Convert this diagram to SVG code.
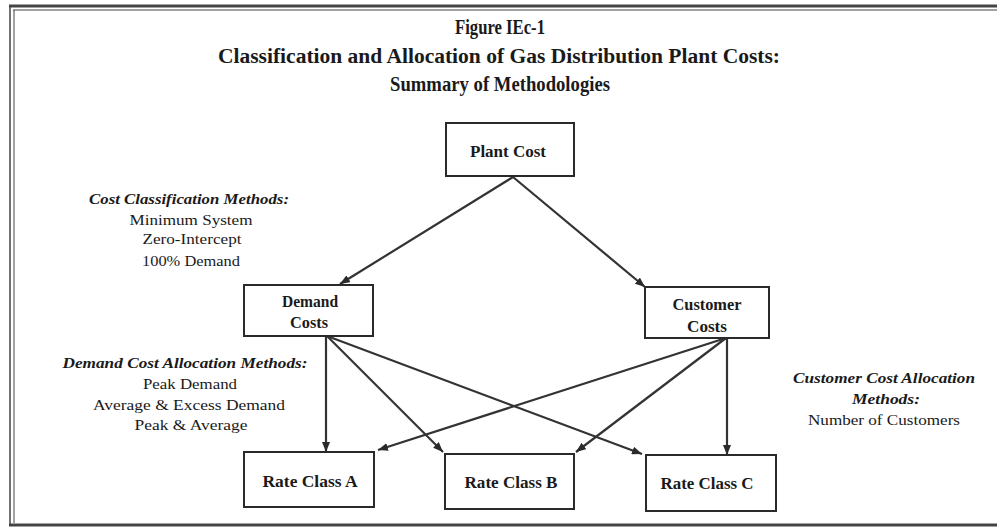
<svg xmlns="http://www.w3.org/2000/svg" width="997" height="529" viewBox="0 0 997 529">
<style>
text{font-family:"Liberation Serif","Times New Roman",serif;fill:#1a1a1a}
.t{font-weight:bold;font-size:20px;text-anchor:middle}
.h{font-weight:bold;font-style:italic;font-size:15.5px;text-anchor:middle}
.b{font-size:15px;text-anchor:middle}
.n{font-weight:bold;font-size:16px;text-anchor:middle}
.box{fill:#fff;stroke:#2a2a2a;stroke-width:2}
.c{stroke:#333;stroke-width:2.2;fill:none;marker-end:url(#ah)}
</style>
<defs>
<marker id="ah" viewBox="0 0 10 8" refX="10" refY="4" markerWidth="10" markerHeight="8" markerUnits="userSpaceOnUse" orient="auto">
<path d="M0,0 L10,4 L0,8 z" fill="#2a2a2a"/>
</marker>
</defs>
<rect width="997" height="529" fill="#fff"/>
<g id="frame" fill="none" stroke="#444">
<line x1="9" y1="6" x2="997" y2="6" stroke-width="3"/>
<line x1="13" y1="10" x2="997" y2="10" stroke-width="1"/>
<line x1="10" y1="6" x2="10" y2="526" stroke-width="1.5"/>
<line x1="14" y1="10" x2="14" y2="523" stroke-width="1"/>
<line x1="9" y1="525" x2="997" y2="525" stroke-width="3"/>
</g>
<g id="title">
<text class="t" x="500" y="34" textLength="90" lengthAdjust="spacingAndGlyphs">Figure IEc-1</text>
<text class="t" x="499" y="63" textLength="562" lengthAdjust="spacingAndGlyphs">Classification and Allocation of Gas Distribution Plant  Costs:</text>
<text class="t" x="500" y="91" textLength="220" lengthAdjust="spacingAndGlyphs">Summary  of Methodologies</text>
</g>
<g id="connectors">
<line class="c" x1="513" y1="177" x2="340" y2="284"/>
<line class="c" x1="513" y1="177" x2="645" y2="287"/>
<line class="c" x1="326" y1="336" x2="326" y2="452"/>
<line class="c" x1="327" y1="336" x2="443" y2="452"/>
<line class="c" x1="327" y1="336" x2="642" y2="454"/>
<line class="c" x1="726" y1="338" x2="378" y2="450"/>
<line class="c" x1="726" y1="338" x2="576" y2="452"/>
<line class="c" x1="727" y1="338" x2="727" y2="455"/>
</g>
<g id="plant-cost">
<rect class="box" x="446" y="123" width="128" height="53"/>
<text class="n" x="508" y="157" textLength="76" lengthAdjust="spacingAndGlyphs">Plant Cost</text>
</g>
<g id="demand-costs">
<rect class="box" x="244" y="285" width="129" height="51"/>
<text class="n" x="310" y="307" textLength="56" lengthAdjust="spacingAndGlyphs">Demand</text>
<text class="n" x="309" y="328" textLength="38" lengthAdjust="spacingAndGlyphs">Costs</text>
</g>
<g id="customer-costs">
<rect class="box" x="645" y="287" width="124" height="51"/>
<text class="n" x="707" y="310" textLength="69" lengthAdjust="spacingAndGlyphs">Customer</text>
<text class="n" x="707" y="332" textLength="40" lengthAdjust="spacingAndGlyphs">Costs</text>
</g>
<g id="rate-a">
<rect class="box" x="244" y="452" width="130" height="55"/>
<text class="n" x="310" y="487" textLength="95" lengthAdjust="spacingAndGlyphs">Rate Class A</text>
</g>
<g id="rate-b">
<rect class="box" x="445" y="454" width="129" height="55"/>
<text class="n" x="511" y="488" textLength="93" lengthAdjust="spacingAndGlyphs">Rate Class B</text>
</g>
<g id="rate-c">
<rect class="box" x="646" y="455" width="130" height="56"/>
<text class="n" x="707" y="489" textLength="93" lengthAdjust="spacingAndGlyphs">Rate Class C</text>
</g>
<g id="cost-classification-methods">
<text class="h" x="189" y="204" textLength="200" lengthAdjust="spacingAndGlyphs">Cost Classification Methods:</text>
<text class="b" x="191" y="225" textLength="123" lengthAdjust="spacingAndGlyphs">Minimum  System</text>
<text class="b" x="192" y="244" textLength="99" lengthAdjust="spacingAndGlyphs">Zero-Intercept</text>
<text class="b" x="191" y="266" textLength="98" lengthAdjust="spacingAndGlyphs">100% Demand</text>
</g>
<g id="demand-cost-allocation-methods">
<text class="h" x="185" y="368" textLength="245" lengthAdjust="spacingAndGlyphs">Demand Cost Allocation Methods:</text>
<text class="b" x="190" y="389" textLength="94" lengthAdjust="spacingAndGlyphs">Peak Demand</text>
<text class="b" x="189" y="410" textLength="192" lengthAdjust="spacingAndGlyphs">Average &amp; Excess  Demand</text>
<text class="b" x="191" y="430" textLength="113" lengthAdjust="spacingAndGlyphs">Peak &amp; Average</text>
</g>
<g id="customer-cost-allocation-methods">
<text class="h" x="884" y="383" textLength="182" lengthAdjust="spacingAndGlyphs">Customer Cost Allocation</text>
<text class="h" x="886" y="404" textLength="68" lengthAdjust="spacingAndGlyphs">Methods:</text>
<text class="b" x="884" y="425" textLength="152" lengthAdjust="spacingAndGlyphs">Number  of Customers</text>
</g>
</svg>
